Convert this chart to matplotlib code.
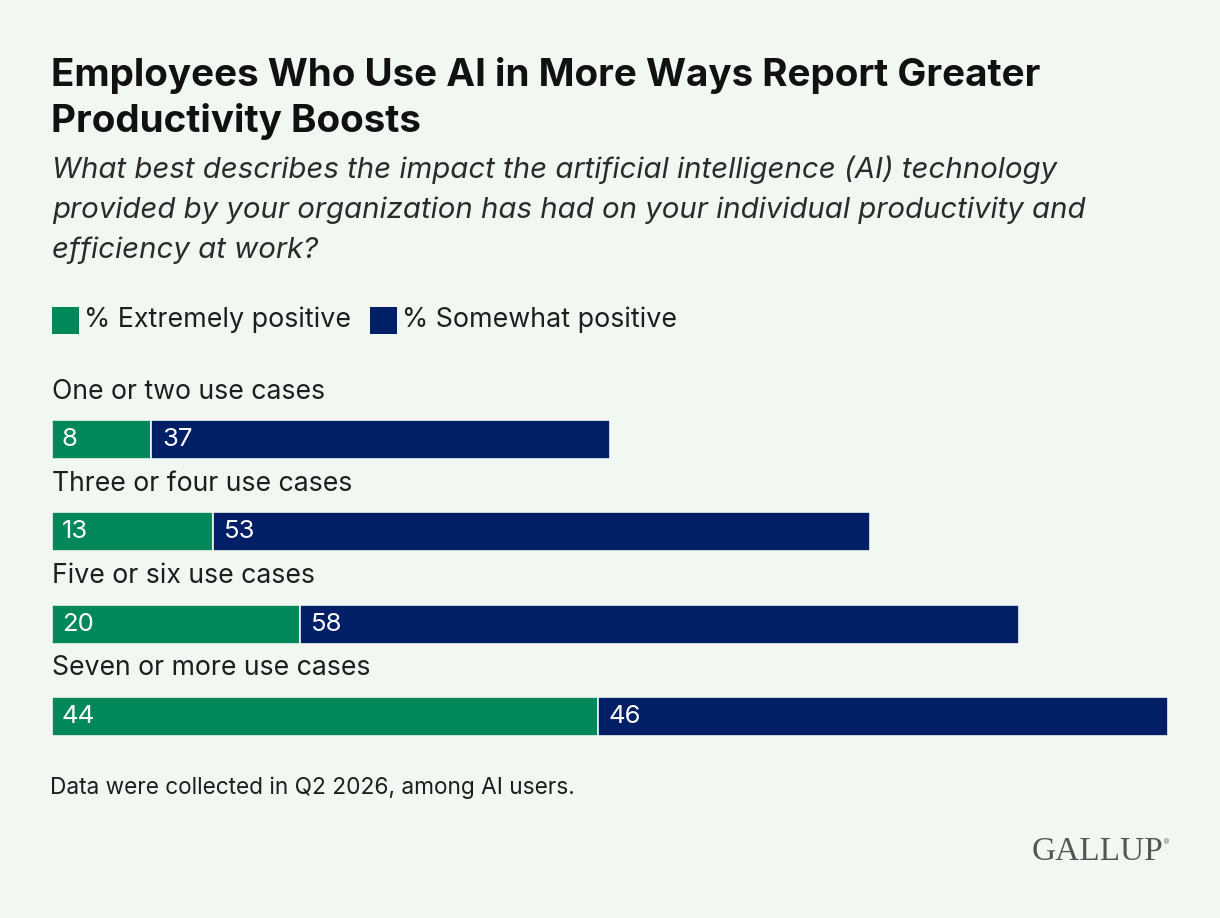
import matplotlib
matplotlib.use("Agg")
import matplotlib.pyplot as plt
from matplotlib.patches import Rectangle

categories = ["One or two use cases", "Three or four use cases", "Five or six use cases", "Seven or more use cases"]
extremely = [8, 13, 20, 44]
somewhat = [37, 53, 58, 46]
series_names = ["% Extremely positive", "% Somewhat positive"]

BG = "#f1f7f1"
GREEN = "#00875a"
NAVY = "#001f66"
TXT = "#1e1e1e"
FONT = ["Inter", "DejaVu Sans"]

W, H = 1220, 918
fig = plt.figure(figsize=(W / 100, H / 100), dpi=100, facecolor=BG)

def fx(px):
    return px / W

def fy(py):
    return 1 - py / H

# Title
fig.text(fx(51), fy(76), "Employees Who Use AI in More Ways Report Greater", fontsize=27.8,
         fontweight="bold", family=FONT, color="#111111", va="center", ha="left")
fig.text(fx(51), fy(121), "Productivity Boosts", fontsize=27.8,
         fontweight="bold", family=FONT, color="#111111", va="center", ha="left")
subtitle = ["What best describes the impact the artificial intelligence (AI) technology",
            "provided by your organization has had on your individual productivity and",
            "efficiency at work?"]
for i, line in enumerate(subtitle):
    fig.text(fx(52), fy(170 + 40 * i), line, fontsize=21.2, style="italic", family=FONT,
             color="#2b2b2b", va="center", ha="left")

# Legend
leg_items = [(52, GREEN, series_names[0]), (370, NAVY, series_names[1])]
for x0, c, lab in leg_items:
    fig.patches.append(Rectangle((fx(x0), fy(334)), fx(27), 27 / H, transform=fig.transFigure,
                                 facecolor=c, edgecolor="none"))
    fig.text(fx(x0 + 32), fy(320), lab, fontsize=19.3, family=FONT, color=TXT, va="center", ha="left")

# Bars
ax = fig.add_axes([fx(52), fy(736), fx(1168) - fx(52), (736 - 420) / H])
ax.set_facecolor(BG)
ax.set_xlim(0, 90)
half = 0.2125
ax.set_ylim(len(categories) - 1 + half, -half)
ypos = list(range(len(categories)))
ax.barh(ypos, extremely, height=2 * half, color=GREEN, edgecolor=BG, linewidth=1.2)
ax.barh(ypos, somewhat, left=extremely, height=2 * half, color=NAVY, edgecolor=BG, linewidth=1.2)
for i, (e, s) in enumerate(zip(extremely, somewhat)):
    ax.annotate(str(e), (0, i), xytext=(7, 0), textcoords="offset points", color="white",
                fontsize=18.5, family=FONT, va="center", ha="left")
    ax.annotate(str(s), (e, i), xytext=(8, 0), textcoords="offset points", color="white",
                fontsize=18.5, family=FONT, va="center", ha="left")
    ax.text(0, i - 0.52, categories[i], fontsize=19.2, family=FONT, color=TXT, va="center", ha="left")
ax.axis("off")

# Footnote
fig.text(fx(50), fy(788), "Data were collected in Q2 2026, among AI users.", fontsize=16.3,
         family=FONT, color=TXT, va="center", ha="left")
fig.text(fx(1163), fy(852), "GALLUP", fontsize=24, family=["Liberation Serif", "DejaVu Serif"],
         color="#555555", va="center", ha="right")
fig.text(fx(1163), fy(842), "®", fontsize=5, family=["DejaVu Sans"], color="#555555",
         va="center", ha="left")

fig.savefig("out.png", dpi=100, facecolor=BG)
